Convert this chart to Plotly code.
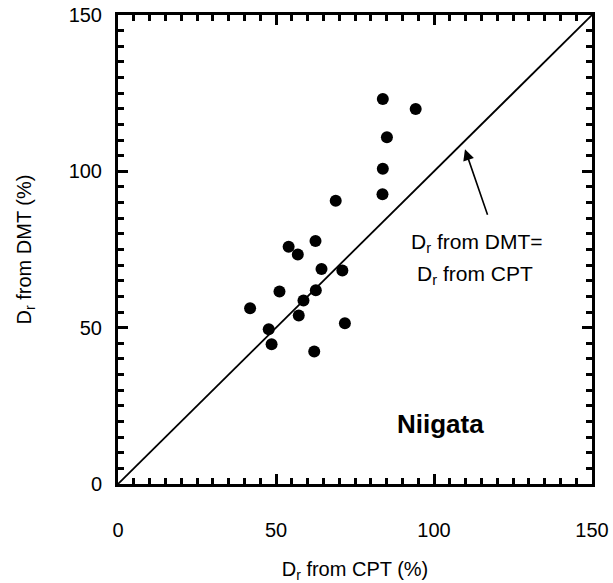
import plotly.graph_objects as go

# Data
dr_cpt = [83.8, 94.2, 85.1, 83.8, 83.7, 68.9, 62.5, 54.0, 56.9, 64.4,
          71.0, 51.1, 62.6, 58.7, 41.8, 57.2, 47.7, 48.6, 71.8, 62.1]
dr_dmt = [123.1, 119.9, 110.9, 100.8, 92.7, 90.6, 77.7, 75.9, 73.4, 68.8,
          68.3, 61.6, 62.0, 58.7, 56.2, 53.9, 49.5, 44.7, 51.4, 42.4]
line_x = [0, 150]
line_y = [0, 150]
axis_range = [0, 150]
major_step = 50
minor_step = 5

FONT = "Liberation Sans, Arial, sans-serif"

fig = go.Figure()
fig.add_trace(go.Scatter(x=line_x, y=line_y, mode="lines",
                         line=dict(color="black", width=1.8),
                         showlegend=False, hoverinfo="skip"))
fig.add_trace(go.Scatter(x=dr_cpt, y=dr_dmt, mode="markers",
                         marker=dict(color="black", size=12),
                         showlegend=False))

axis_common = dict(
    range=axis_range, tickmode="linear", tick0=0, dtick=major_step,
    ticks="inside", ticklen=10, tickwidth=2.5, tickcolor="black",
    showline=True, linecolor="black", linewidth=3, mirror="allticks",
    showgrid=False, zeroline=False, automargin=False,
    tickfont=dict(family=FONT, size=20, color="black"),
    minor=dict(tickmode="linear", tick0=0, dtick=minor_step, ticks="inside",
               ticklen=6, tickwidth=2.5, tickcolor="black", showgrid=False),
)

fig.update_layout(
    width=613, height=583,
    margin=dict(l=118, r=21, t=15, b=99),
    plot_bgcolor="white", paper_bgcolor="white",
    xaxis=dict(**axis_common, ticklabelstandoff=26,
               title=dict(text="D<sub>r</sub> from CPT (%)", standoff=23,
                          font=dict(family=FONT, size=20, color="black"))),
    yaxis=dict(**axis_common, ticklabelstandoff=9,
               title=dict(text="D<sub>r</sub> from DMT (%)", standoff=32,
                          font=dict(family=FONT, size=20, color="black"))),
    showlegend=False,
)

fig.add_annotation(x=109.8, y=107.1, ax=117.1, ay=85.6, xref="x", yref="y",
                   axref="x", ayref="y", text="", showarrow=True,
                   arrowhead=2, arrowsize=1.4, arrowwidth=1.6, arrowcolor="black")
fig.add_annotation(x=113.6, y=77.2, xref="x", yref="y", showarrow=False,
                   text="D<sub>r</sub> from DMT=",
                   font=dict(family=FONT, size=21, color="black"))
fig.add_annotation(x=113.0, y=67.0, xref="x", yref="y", showarrow=False,
                   text="D<sub>r</sub> from CPT",
                   font=dict(family=FONT, size=21, color="black"))
fig.add_annotation(x=102.1, y=19.2, xref="x", yref="y", showarrow=False,
                   text="<b>Niigata</b>",
                   font=dict(family=FONT, size=26, color="black"))

fig.write_html("out.html", config={"displayModeBar": False},
               post_script="document.body.style.margin='0';document.body.style.padding='0';")
